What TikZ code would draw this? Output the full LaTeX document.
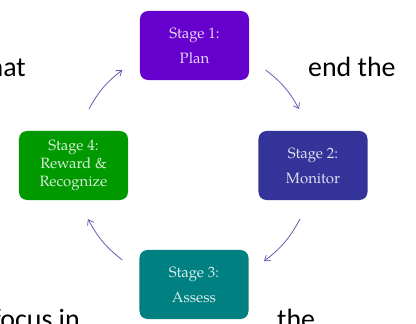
\documentclass[tikz,border=0pt]{standalone}
\usepackage{fontspec}
\setmainfont{Carlito}
\newfontfamily\stagefont{TeX Gyre Pagella}
\usetikzlibrary{arrows.meta, calc}

\definecolor{planc}{HTML}{6600CC}
\definecolor{monc}{HTML}{333399}
\definecolor{assc}{HTML}{008080}
\definecolor{rewc}{HTML}{009900}
\definecolor{arrc}{RGB}{95,95,175}

\tikzset{
  stage/.style={fill=#1, text=white!85!#1, rounded corners=8bp,
    minimum width=109bp, minimum height=69bp, inner sep=2bp, align=center,
    font=\stagefont\fontsize{15}{25}\selectfont},
  bgtext/.style={inner sep=0pt, font=\fontsize{28}{34}\selectfont},
  cycle/.style={->, draw=arrc, line width=0.8bp}
}

\begin{document}
\begin{tikzpicture}[x=1bp, y=1bp, >={Straight Barb[length=5bp, width=7bp]}]
			\useasboundingbox (0,0) rectangle (416,324);

			% Text behind the cycle
			\node[bgtext, anchor=base east] (wl) at (26,248) {what};
			\node[bgtext, anchor=base west] (wr) at (308,248) {end the};
			\node[bgtext, anchor=base east] (bl) at (80,-4) {focus in};
			\node[bgtext, anchor=base west] (br) at (277,-4) {the};

			% Stages
			\node[stage=planc] (plan) at (194.5,278.5) {Stage 1:\\Plan};
			\node[stage=monc] (mon) at (313,158.5) {Stage 2:\\Monitor};
			\node[stage=assc] (ass) at (194,39.5) {Stage 3:\\Assess};
			\node[stage=rewc, font=\stagefont\fontsize{15}{18}\selectfont] (rew) at (73.5,158.5) {Stage 4:\\Reward \&\\Recognize};

			% Arrows on a circle round the middle
			\coordinate (mid) at (194,159);
			\foreach \i/\a/\b in {1/152/127, 2/53/28, 3/-27/-54, 4/233/207} {
				\coordinate (s\i) at ($(mid)+(\a:119)$);
				\coordinate (e\i) at ($(mid)+(\b:119)$);
				\draw[cycle] (s\i) to[bend left=12] (e\i);
			}
		\end{tikzpicture}
\end{document}
